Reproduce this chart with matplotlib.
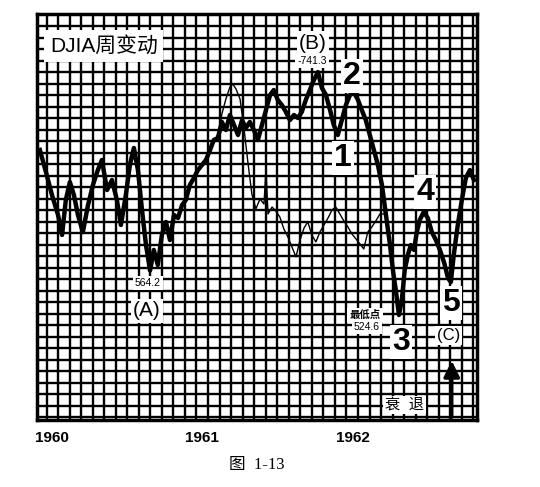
import matplotlib
matplotlib.use('Agg')
import matplotlib.pyplot as plt
import numpy as np

plt.rcParams['font.family'] = ['Liberation Sans', 'Noto Sans CJK SC', 'DejaVu Sans']

# DJIA weekly, main series (week number since start of 1960, index value)
weeks = [1.7, 3.8, 5.9, 8.0, 9.4, 10.7, 12.1, 13.5, 14.9, 16.6, 18.4, 20.1, 21.8,
         23.2, 25.0, 26.7, 28.4, 29.8, 31.5, 32.9, 34.3, 35.7, 37.1, 38.5, 39.9,
         41.2, 42.6, 44.0, 45.4, 46.8, 48.2, 49.6, 51.0, 52.3, 53.7, 55.1, 56.5,
         57.9, 59.3, 60.7, 62.0, 63.4, 64.8, 66.2, 67.6, 69.0, 70.4, 71.8, 73.1,
         74.5, 75.9, 77.3, 78.7, 80.1, 81.5, 82.8, 84.2, 85.6, 87.0, 88.4, 89.8,
         91.2, 92.5, 93.9, 95.3, 96.7, 98.1, 99.5, 100.9, 102.3, 103.6, 105.0,
         106.4, 107.8, 109.2, 110.6, 112.0, 113.3, 114.7, 116.1, 117.5, 118.9,
         120.3, 121.7, 123.1, 124.1, 125.1, 126.2, 127.2, 128.2, 129.3, 130.3,
         131.4, 132.4, 133.4, 134.8, 136.2, 137.6, 139.0, 140.4, 141.8, 143.2,
         144.2, 145.2, 146.6, 148.0, 149.4, 150.8, 152.2]
djia = [671.8, 652.2, 631.6, 613.8, 596.0, 627.2, 643.2, 631.6, 613.8, 598.6,
        622.7, 640.6, 653.9, 662.9, 636.1, 645.0, 627.2, 604.9, 631.6, 658.4,
        673.6, 653.9, 618.3, 587.0, 564.2, 582.6, 569.2, 596.0, 607.6, 591.5,
        613.8, 611.1, 622.7, 627.2, 640.6, 646.8, 653.9, 658.4, 662.9, 671.8,
        680.7, 682.5, 696.8, 689.6, 703.0, 694.1, 685.2, 698.5, 691.4, 696.8,
        689.6, 680.7, 694.1, 707.5, 720.8, 725.3, 716.4, 711.9, 705.7, 698.5,
        703.0, 700.3, 705.7, 716.4, 725.3, 734.2, 741.3, 727.1, 720.8, 707.5,
        694.1, 685.2, 698.5, 711.9, 720.8, 723.5, 716.4, 707.5, 698.5, 685.2,
        671.8, 658.4, 640.6, 613.8, 587.0, 564.7, 546.9, 524.6, 538.0, 564.7,
        578.1, 587.0, 582.6, 598.6, 609.3, 616.5, 611.1, 598.6, 591.5, 582.6,
        571.9, 557.6, 554.0, 578.1, 604.9, 627.2, 646.8, 653.9, 645.0]

# second (thin) line, 1961-1962
weeks2 = [63.4, 64.8, 66.2, 67.6, 68.6, 69.7, 71.1, 72.5, 73.9, 75.2, 76.6, 78.0,
          79.4, 80.1, 80.8, 82.2, 83.5, 84.9, 86.3, 87.7, 89.1, 90.5, 91.9, 93.3,
          94.6, 96.0, 97.4, 98.8, 100.2, 101.6, 103.0, 104.3, 105.7, 107.1, 108.5,
          109.9, 111.3, 112.7, 114.0, 115.4, 116.8, 118.2, 119.6, 121.0]
thin = [682.5, 703.9, 717.3, 728.0, 730.7, 726.2, 717.3, 690.5, 659.3, 632.6,
        619.2, 628.1, 623.6, 654.8, 614.7, 620.9, 617.4, 612.0, 601.3, 594.2,
        585.3, 576.4, 591.5, 602.2, 607.6, 596.0, 589.8, 598.6, 604.9, 611.1,
        618.3, 620.9, 614.7, 608.5, 603.1, 596.9, 592.4, 587.9, 583.5, 598.6,
        603.1, 608.5, 614.7, 614.7]

year_labels = ['1960', '1961', '1962']
year_weeks = [0, 52.14, 104.29]

fig = plt.figure(figsize=(5.4, 4.87), dpi=100)
ax = fig.add_axes([0.0685, 0.1376, 0.8145, 0.8336])

ax.set_xlim(0.7, 153.2)
ax.set_ylim(430.9, 793.1)

# heavy chart-paper grid
for w in np.arange(4, 153, 4):
    ax.axvline(w, color='black', lw=1.7, zorder=1)
for p in np.arange(782.4, 431, -10.26):
    ax.axhline(p, color='black', lw=1.7, zorder=1)

ax.plot(weeks2, thin, color='black', lw=1.0, zorder=3)
ax.plot(weeks, djia, color='black', lw=3.2, zorder=4)

ax.set_xticks([])
ax.set_yticks([])
for s in ax.spines.values():
    s.set_linewidth(2.5)

white = dict(facecolor='white', edgecolor='none', pad=1.5)
ax.text(5.2, 764.6, 'DJIA周变动', fontsize=15, ha='left', va='center',
        bbox=dict(facecolor='white', edgecolor='none', pad=4), zorder=6)
ax.text(96.4, 767.2, '(B)', fontsize=15, ha='center', va='center', bbox=white, zorder=6)
ax.text(96.0, 751.2, '-741.3', fontsize=7.5, ha='center', va='center', bbox=white, zorder=6)
ax.text(109.9, 737.8, '2', fontsize=23, fontweight='bold', ha='center', va='center',
        bbox=white, zorder=6)
ax.text(106.8, 664.6, '1', fontsize=23, fontweight='bold', ha='center', va='center',
        bbox=white, zorder=6)
ax.text(135.2, 634.3, '4', fontsize=23, fontweight='bold', ha='center', va='center',
        bbox=white, zorder=6)
ax.text(126.9, 500.5, '3', fontsize=23, fontweight='bold', ha='center', va='center',
        bbox=white, zorder=6)
ax.text(144.2, 535.3, '5', fontsize=23, fontweight='bold', ha='center', va='center',
        bbox=white, zorder=6)
ax.text(143.5, 505.9, '(C)', fontsize=12, ha='center', va='center', bbox=white, zorder=6)
ax.text(38.8, 528.2, '(A)', fontsize=15, ha='center', va='center', bbox=white, zorder=6)
ax.text(39.2, 553.1, '564.2', fontsize=7.5, ha='center', va='center', bbox=white, zorder=6)
ax.text(114.4, 524.6, '最低点', fontsize=7.5, fontweight='bold', ha='center',
        va='center', bbox=white, zorder=6)
ax.text(115.1, 513.9, '524.6', fontsize=7.5, ha='center', va='center', bbox=white, zorder=6)
ax.text(128.2, 444.3, '衰  退', fontsize=11, ha='center', va='center', bbox=white, zorder=6)
ax.annotate('', xy=(144.5, 486.2), xytext=(144.5, 430.9),
            arrowprops=dict(arrowstyle='-|>', color='black', lw=2.5,
                            mutation_scale=24), zorder=7)

for lab, w in zip(year_labels, year_weeks):
    ax.text(w, -0.045, lab, transform=ax.get_xaxis_transform(), fontsize=11,
            fontweight='bold', ha='left', va='center', clip_on=False)

fig.text(0.475, 0.045, '图  1-13', fontsize=12, ha='center', va='center',
         family=['Liberation Serif', 'Noto Sans CJK SC'])

fig.savefig('out.png', dpi=100)
